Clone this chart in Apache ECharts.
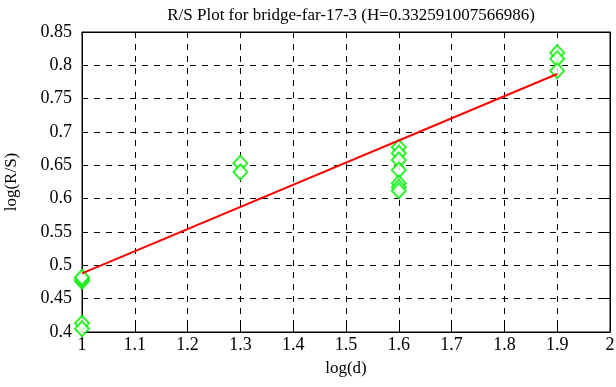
<!DOCTYPE html>
<html><head><meta charset="utf-8">
<script src="https://cdn.jsdelivr.net/npm/echarts@6/dist/echarts.min.js"></script>
<style>html,body{margin:0;padding:0;background:#fff}#c{width:616px;height:387px}</style>
</head><body><div id="c"></div>
<script>
const titleText = 'R/S Plot for bridge-far-17-3 (H=0.332591007566986)';
const xName = 'log(d)';
const yName = 'log(R/S)';
const xs = [1, 1, 1, 1, 1,
            1.3, 1.3,
            1.6, 1.6, 1.6, 1.6, 1.6, 1.6, 1.6,
            1.9, 1.9, 1.9];
const ys = [0.476, 0.479, 0.482, 0.413, 0.405,
            0.653, 0.640,
            0.677, 0.668, 0.658, 0.643, 0.623, 0.617, 0.612,
            0.819, 0.810, 0.792];
const fitX = [1, 1.9];
const fitY = [0.488, 0.787];

const font = 'Liberation Serif';
const chart = echarts.init(document.getElementById('c'));
const axLine = {show: true, lineStyle: {color: '#000', width: 1}};
chart.setOption({
  animation: false,
  backgroundColor: '#fff',
  title: {text: titleText, left: 346, top: 2, textAlign: 'center',
    textStyle: {fontFamily: font, fontSize: 17, fontWeight: 'normal', color: '#000'}},
  grid: {left: 82, right: 6, top: 32, bottom: 55, show: true, borderColor: '#000', borderWidth: 1,
    containLabel: false, outerBoundsMode: 'none'},
  xAxis: [{
    type: 'value', min: 1, max: 2, interval: 0.1,
    name: xName, nameLocation: 'middle', nameGap: 28,
    nameTextStyle: {fontFamily: font, fontSize: 17, color: '#000'},
    axisLine: axLine,
    axisTick: {inside: true, length: 6, lineStyle: {color: '#000'}},
    axisLabel: {fontFamily: font, fontSize: 18, color: '#000', margin: 4,
      formatter: v => String(Math.round(v * 10) / 10)},
    splitLine: {show: true, lineStyle: {color: '#000', type: [6, 6], width: 1}}
  }, {
    type: 'value', min: 1, max: 2, interval: 0.1, position: 'top',
    axisLine: axLine,
    axisTick: {inside: true, length: 6, lineStyle: {color: '#000'}},
    axisLabel: {show: false}, splitLine: {show: false}
  }],
  yAxis: [{
    type: 'value', min: 0.4, max: 0.85, interval: 0.05,
    name: yName, nameLocation: 'middle', nameGap: 62, nameRotate: 90,
    nameTextStyle: {fontFamily: font, fontSize: 17, color: '#000'},
    axisLine: axLine,
    axisTick: {inside: true, length: 6, lineStyle: {color: '#000'}},
    axisLabel: {fontFamily: font, fontSize: 18, color: '#000', margin: 10,
      formatter: v => String(Math.round(v * 100) / 100)},
    splitLine: {show: true, lineStyle: {color: '#000', type: [6, 6], width: 1}}
  }, {
    type: 'value', min: 0.4, max: 0.85, interval: 0.05, position: 'right',
    axisLine: axLine,
    axisTick: {inside: true, length: 6, lineStyle: {color: '#000'}},
    axisLabel: {show: false}, splitLine: {show: false}
  }],
  series: [{
    type: 'scatter', symbol: 'emptyDiamond', symbolSize: [14, 15],
    itemStyle: {color: '#00ee00', borderColor: '#00ee00', borderWidth: 1.5},
    data: xs.map((x, i) => [x, ys[i]]), z: 3
  }, {
    type: 'line', symbol: 'none',
    lineStyle: {color: '#ff0000', width: 2},
    data: fitX.map((x, i) => [x, fitY[i]]), z: 4
  }]
});
</script></body></html>
